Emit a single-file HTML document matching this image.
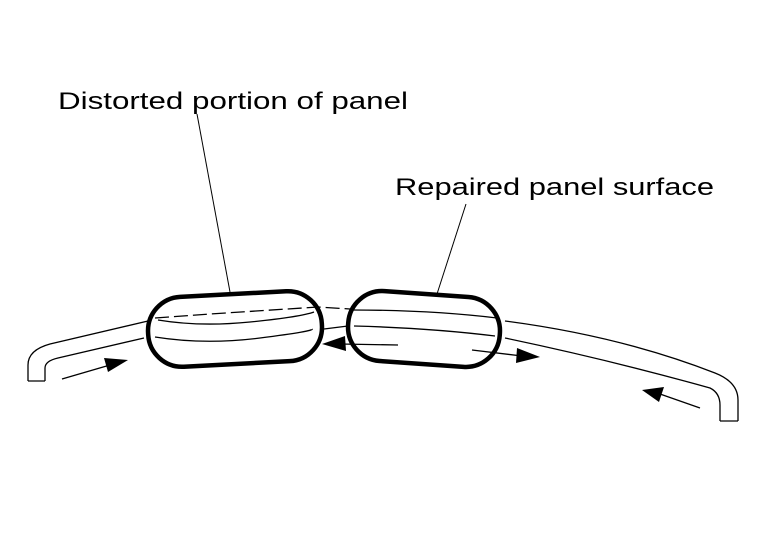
<!DOCTYPE html>
<html><head><meta charset="utf-8"><style>html,body{margin:0;padding:0;background:#fff}svg{display:block}</style></head>
<body>
<svg width="768" height="544" viewBox="0 0 768 544" xmlns="http://www.w3.org/2000/svg" font-family="Liberation Sans, sans-serif">
<rect width="768" height="544" fill="#fff"/>
<g fill="none" stroke="#000" stroke-width="1.3">
<!-- left panel -->
<path d="M28,381 V365 Q28,350 50,344 L148,321"/>
<path d="M45,381 V368 Q45,361 58,358 L144,338"/>
<path d="M28,381 H45"/>
<!-- right panel -->
<path d="M505,321 Q620,336 715,373 Q738,382 738,400 V421"/>
<path d="M505,338 Q610,360 710,388 Q720,393 720,405 V421"/>
<path d="M720,421 H738"/>
<!-- inner lines -->
<path d="M155,318 L210,314 L318,307 L350,309" stroke-dasharray="14,5"/>
<path d="M158,320 Q200,327 250,322 T314,312"/>
<path d="M155,337 Q205,345 260,338 T312,329"/>
<path d="M324,329 L348,326"/>
<path d="M352,310 Q430,310 497,318"/>
<path d="M354,326 Q430,328 495,336"/>
<!-- leaders -->
<path d="M197,114 L230,292" stroke-width="1"/>
<path d="M466,204 L437,294" stroke-width="1"/>
<!-- arrow shafts -->
<path d="M62,379 L110,365"/>
<path d="M398,345 L340,344"/>
<path d="M472,350 L522,356"/>
<path d="M700,408 L660,394"/>
</g>
<g fill="#000">
<polygon points="128,360 104,358 108,372"/>
<polygon points="322,344 345,336 346,351"/>
<polygon points="540,357 517,348 516,363"/>
<polygon points="642,390 664,387 659,402"/>
</g>
<g fill="none" stroke="#000" stroke-width="4.5">
<rect x="148" y="294" width="174" height="70" rx="34" transform="rotate(-3 235 329)"/>
<rect x="348" y="294" width="152" height="70" rx="34" transform="rotate(4 424 329)"/>
</g>
<text x="58" y="109" font-size="24" textLength="350" lengthAdjust="spacingAndGlyphs">Distorted portion of panel</text>
<text x="395" y="195" font-size="24" textLength="319" lengthAdjust="spacingAndGlyphs">Repaired panel surface</text>
</svg>
</body></html>
